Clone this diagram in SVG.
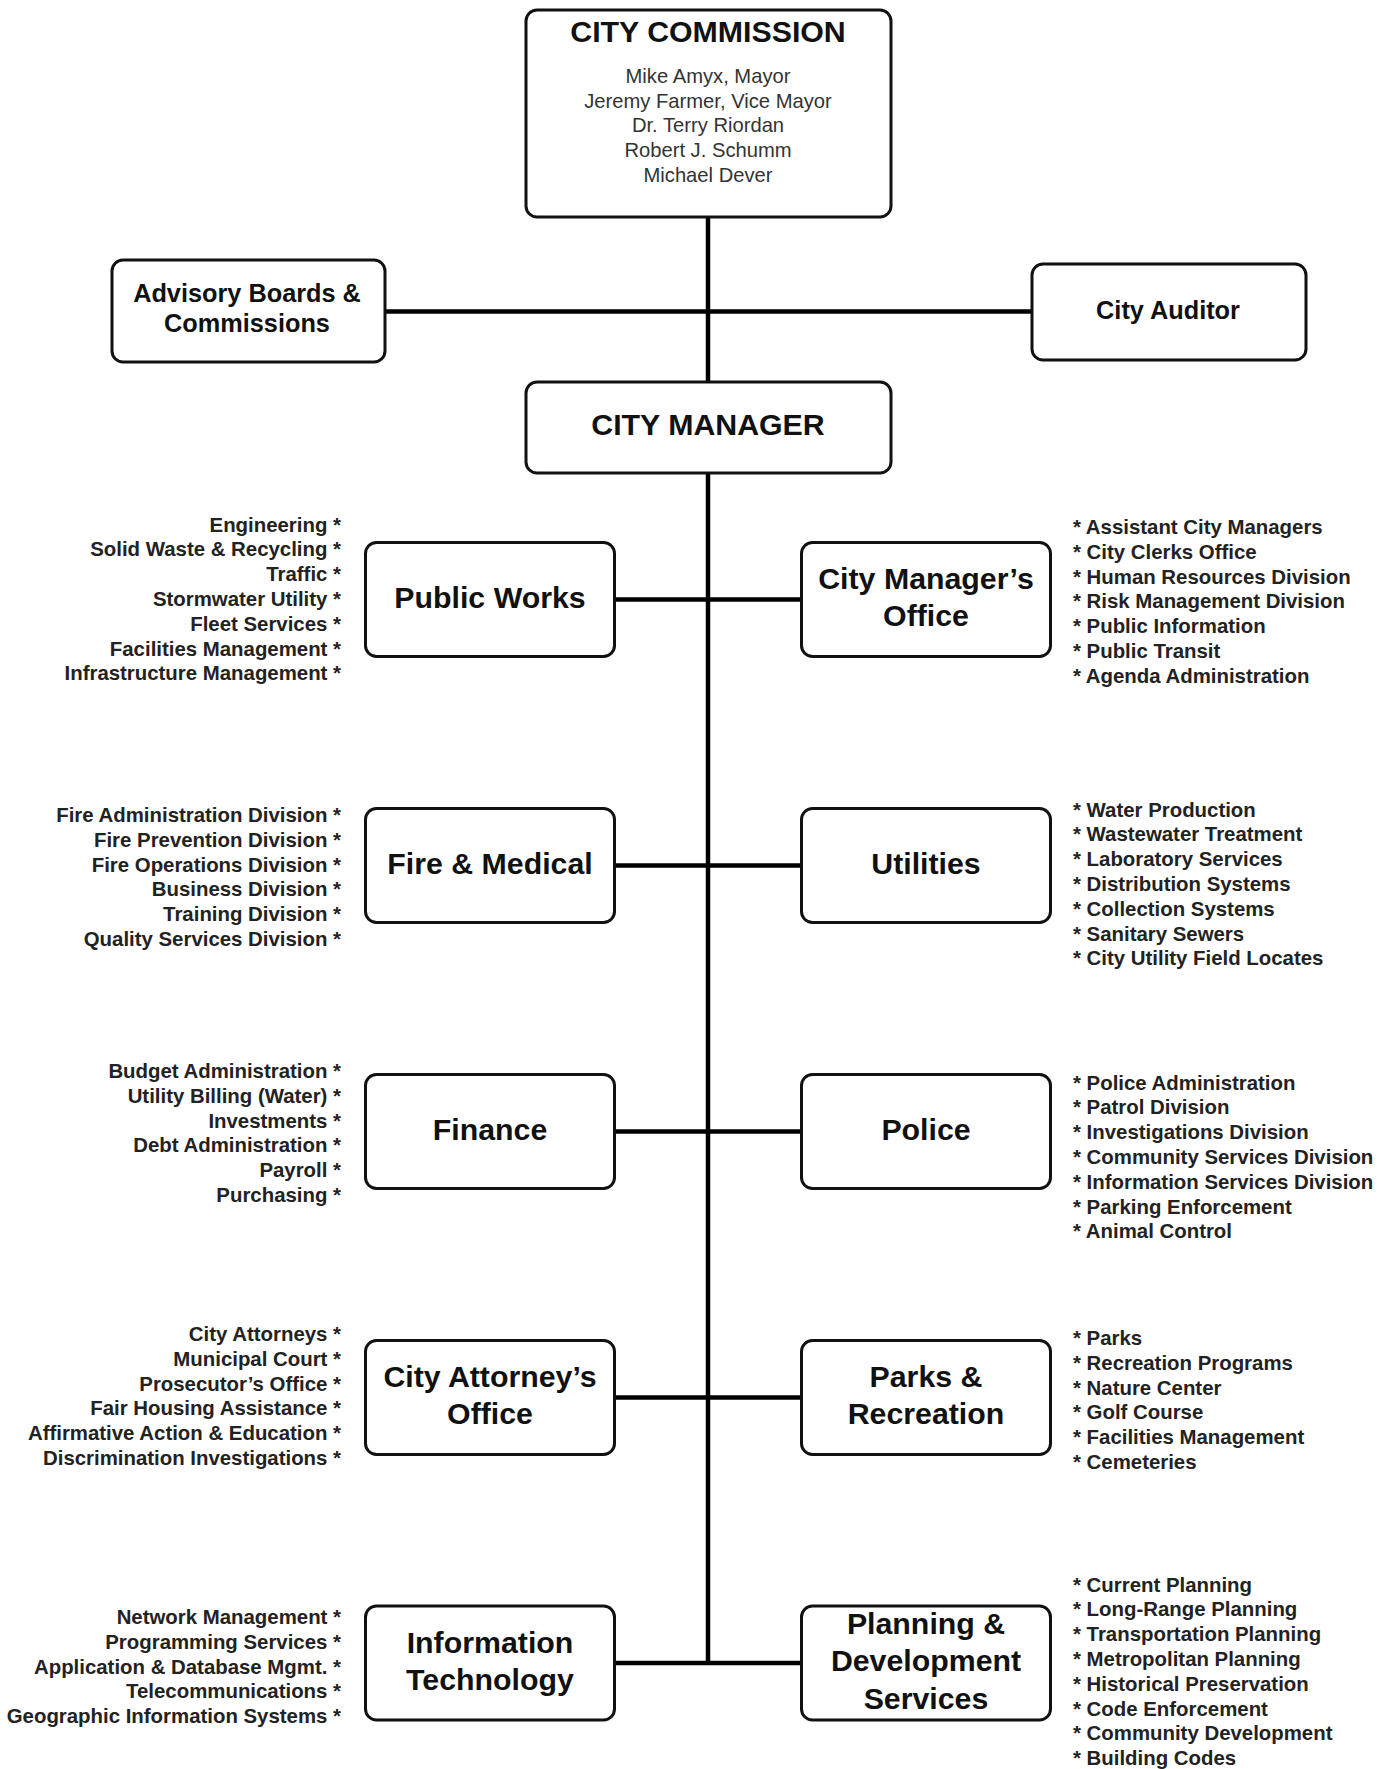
<svg xmlns="http://www.w3.org/2000/svg" width="1391" height="1769" viewBox="0 0 1391 1769">
<style>
.box{fill:#fff;stroke:#111;stroke-width:3}
.ln{stroke:#000;stroke-width:4.5;fill:none}
.t30{font-family:"Liberation Sans",Arial,sans-serif;font-weight:bold;font-size:30.3px;fill:#111;text-anchor:middle}
.t25{font-family:"Liberation Sans",Arial,sans-serif;font-weight:bold;font-size:25.3px;fill:#111;text-anchor:middle}
.nm{font-family:"Liberation Sans",Arial,sans-serif;font-size:20.2px;fill:#333;text-anchor:middle}
.ll{font-family:"Liberation Sans",Arial,sans-serif;font-weight:bold;font-size:20.4px;fill:#222;text-anchor:end}
.rl{font-family:"Liberation Sans",Arial,sans-serif;font-weight:bold;font-size:20.4px;fill:#222;text-anchor:start}
</style>
<rect width="1391" height="1769" fill="#fff"/>
<g id="connectors">
<line class="ln" x1="708" y1="217" x2="708" y2="1663"/>
<line class="ln" x1="385" y1="311.5" x2="1032" y2="311.5"/>
<line class="ln" x1="615" y1="599.5" x2="801" y2="599.5"/>
<line class="ln" x1="615" y1="865.5" x2="801" y2="865.5"/>
<line class="ln" x1="615" y1="1131.5" x2="801" y2="1131.5"/>
<line class="ln" x1="615" y1="1397.5" x2="801" y2="1397.5"/>
<line class="ln" x1="615" y1="1663" x2="801" y2="1663"/>
</g>
<g id="city-commission">
<rect class="box" x="526" y="10" width="365" height="207" rx="11"/>
<text class="t30" x="708" y="41.5">CITY COMMISSION</text>
<text class="nm" x="708" y="83">Mike Amyx, Mayor</text>
<text class="nm" x="708" y="107.7">Jeremy Farmer, Vice Mayor</text>
<text class="nm" x="708" y="132.4">Dr. Terry Riordan</text>
<text class="nm" x="708" y="157.1">Robert J. Schumm</text>
<text class="nm" x="708" y="181.8">Michael Dever</text>
</g>
<g id="advisory-boards">
<rect class="box" x="112" y="260" width="273" height="102" rx="11"/>
<text class="t25" x="247" y="302">Advisory Boards &amp;</text>
<text class="t25" x="247" y="332">Commissions</text>
</g>
<g id="city-auditor">
<rect class="box" x="1032" y="264" width="274" height="96" rx="11"/>
<text class="t25" x="1168" y="318.5">City Auditor</text>
</g>
<g id="city-manager">
<rect class="box" x="526" y="382" width="365" height="91" rx="11"/>
<text class="t30" x="708" y="435">CITY MANAGER</text>
</g>

<g id="public-works">
<rect class="box" x="365.5" y="542.5" width="249" height="114" rx="11"/>
<text class="t30" x="490" y="608">Public Works</text>
<text class="ll" x="341" y="531.6">Engineering *</text>
<text class="ll" x="341" y="556.4">Solid Waste &amp; Recycling *</text>
<text class="ll" x="341" y="581.2">Traffic *</text>
<text class="ll" x="341" y="606">Stormwater Utility *</text>
<text class="ll" x="341" y="630.8">Fleet Services *</text>
<text class="ll" x="341" y="655.6">Facilities Management *</text>
<text class="ll" x="341" y="680.4">Infrastructure Management *</text>
</g>
<g id="city-managers-office">
<rect class="box" x="801.5" y="542.5" width="249" height="114" rx="11"/>
<text class="t30" x="926" y="589">City Manager’s</text>
<text class="t30" x="926" y="626">Office</text>
<text class="rl" x="1073" y="534">* Assistant City Managers</text>
<text class="rl" x="1073" y="558.8">* City Clerks Office</text>
<text class="rl" x="1073" y="583.6">* Human Resources Division</text>
<text class="rl" x="1073" y="608.4">* Risk Management Division</text>
<text class="rl" x="1073" y="633.2">* Public Information</text>
<text class="rl" x="1073" y="658">* Public Transit</text>
<text class="rl" x="1073" y="682.8">* Agenda Administration</text>
</g>

<g id="fire-medical">
<rect class="box" x="365.5" y="808.5" width="249" height="114" rx="11"/>
<text class="t30" x="490" y="874">Fire &amp; Medical</text>
<text class="ll" x="341" y="822">Fire Administration Division *</text>
<text class="ll" x="341" y="846.8">Fire Prevention Division *</text>
<text class="ll" x="341" y="871.6">Fire Operations Division *</text>
<text class="ll" x="341" y="896.4">Business Division *</text>
<text class="ll" x="341" y="921.2">Training Division *</text>
<text class="ll" x="341" y="946">Quality Services Division *</text>
</g>
<g id="utilities">
<rect class="box" x="801.5" y="808.5" width="249" height="114" rx="11"/>
<text class="t30" x="926" y="874">Utilities</text>
<text class="rl" x="1073" y="816.5">* Water Production</text>
<text class="rl" x="1073" y="841.3">* Wastewater Treatment</text>
<text class="rl" x="1073" y="866.1">* Laboratory Services</text>
<text class="rl" x="1073" y="890.9">* Distribution Systems</text>
<text class="rl" x="1073" y="915.7">* Collection Systems</text>
<text class="rl" x="1073" y="940.5">* Sanitary Sewers</text>
<text class="rl" x="1073" y="965.3">* City Utility Field Locates</text>
</g>

<g id="finance">
<rect class="box" x="365.5" y="1074.5" width="249" height="114" rx="11"/>
<text class="t30" x="490" y="1140">Finance</text>
<text class="ll" x="341" y="1078">Budget Administration *</text>
<text class="ll" x="341" y="1102.8">Utility Billing (Water) *</text>
<text class="ll" x="341" y="1127.6">Investments *</text>
<text class="ll" x="341" y="1152.4">Debt Administration *</text>
<text class="ll" x="341" y="1177.2">Payroll *</text>
<text class="ll" x="341" y="1202">Purchasing *</text>
</g>
<g id="police">
<rect class="box" x="801.5" y="1074.5" width="249" height="114" rx="11"/>
<text class="t30" x="926" y="1140">Police</text>
<text class="rl" x="1073" y="1089.5">* Police Administration</text>
<text class="rl" x="1073" y="1114.3">* Patrol Division</text>
<text class="rl" x="1073" y="1139.1">* Investigations Division</text>
<text class="rl" x="1073" y="1163.9">* Community Services Division</text>
<text class="rl" x="1073" y="1188.7">* Information Services Division</text>
<text class="rl" x="1073" y="1213.5">* Parking Enforcement</text>
<text class="rl" x="1073" y="1238.3">* Animal Control</text>
</g>

<g id="city-attorneys-office">
<rect class="box" x="365.5" y="1340.5" width="249" height="114" rx="11"/>
<text class="t30" x="490" y="1387">City Attorney’s</text>
<text class="t30" x="490" y="1423.5">Office</text>
<text class="ll" x="341" y="1341">City Attorneys *</text>
<text class="ll" x="341" y="1365.8">Municipal Court *</text>
<text class="ll" x="341" y="1390.6">Prosecutor’s Office *</text>
<text class="ll" x="341" y="1415.4">Fair Housing Assistance *</text>
<text class="ll" x="341" y="1440.2">Affirmative Action &amp; Education *</text>
<text class="ll" x="341" y="1465">Discrimination Investigations *</text>
</g>
<g id="parks-recreation">
<rect class="box" x="801.5" y="1340.5" width="249" height="114" rx="11"/>
<text class="t30" x="926" y="1387">Parks &amp;</text>
<text class="t30" x="926" y="1423.5">Recreation</text>
<text class="rl" x="1073" y="1345">* Parks</text>
<text class="rl" x="1073" y="1369.8">* Recreation Programs</text>
<text class="rl" x="1073" y="1394.6">* Nature Center</text>
<text class="rl" x="1073" y="1419.4">* Golf Course</text>
<text class="rl" x="1073" y="1444.2">* Facilities Management</text>
<text class="rl" x="1073" y="1469">* Cemeteries</text>
</g>

<g id="information-technology">
<rect class="box" x="365.5" y="1606" width="249" height="114" rx="11"/>
<text class="t30" x="490" y="1653">Information</text>
<text class="t30" x="490" y="1689.5">Technology</text>
<text class="ll" x="341" y="1624">Network Management *</text>
<text class="ll" x="341" y="1648.8">Programming Services *</text>
<text class="ll" x="341" y="1673.6">Application &amp; Database Mgmt. *</text>
<text class="ll" x="341" y="1698.4">Telecommunications *</text>
<text class="ll" x="341" y="1723.2">Geographic Information Systems *</text>
</g>
<g id="planning-development">
<rect class="box" x="801.5" y="1606" width="249" height="114" rx="11"/>
<text class="t30" x="926" y="1633.5">Planning &amp;</text>
<text class="t30" x="926" y="1671">Development</text>
<text class="t30" x="926" y="1708.5">Services</text>
<text class="rl" x="1073" y="1591.5">* Current Planning</text>
<text class="rl" x="1073" y="1616.3">* Long-Range Planning</text>
<text class="rl" x="1073" y="1641.1">* Transportation Planning</text>
<text class="rl" x="1073" y="1665.9">* Metropolitan Planning</text>
<text class="rl" x="1073" y="1690.7">* Historical Preservation</text>
<text class="rl" x="1073" y="1715.5">* Code Enforcement</text>
<text class="rl" x="1073" y="1740.3">* Community Development</text>
<text class="rl" x="1073" y="1765.1">* Building Codes</text>
</g>
</svg>
